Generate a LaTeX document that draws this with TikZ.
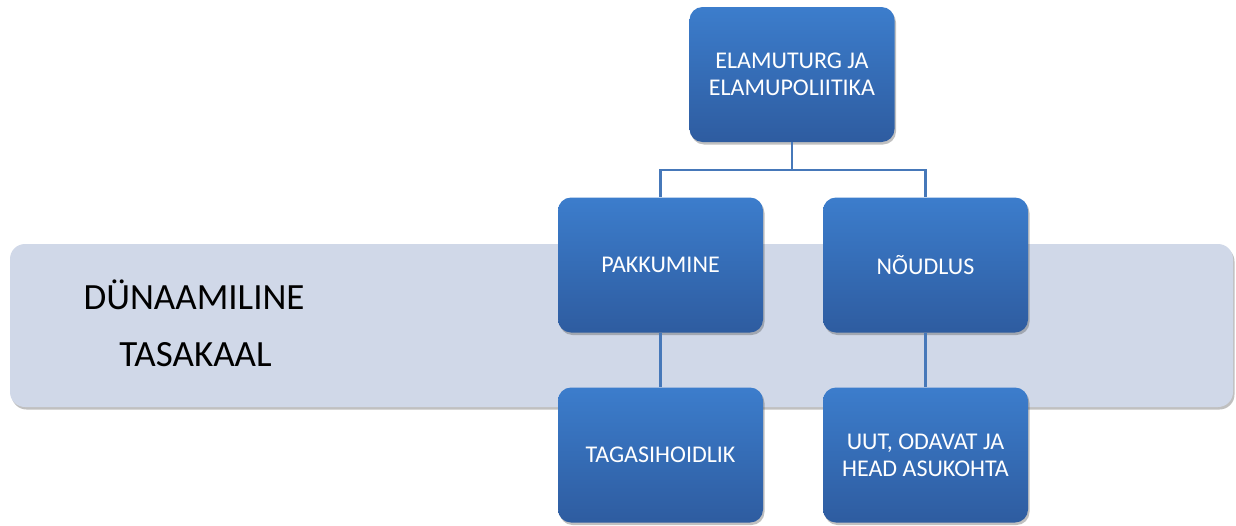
\documentclass[tikz,border=0pt]{standalone}
\usepackage{fontspec}
\setmainfont{Carlito}
\usetikzlibrary{shadows}
\definecolor{boxtop}{RGB}{60,125,204}
\definecolor{boxbot}{RGB}{46,92,160}
\definecolor{bandfill}{RGB}{208,216,232}
\definecolor{linkcol}{RGB}{70,120,185}
\tikzset{
  boxnode/.style={rectangle, rounded corners=13pt, minimum width=205pt, minimum height=135pt,
    top color=boxtop, bottom color=boxbot, draw=none, text=white, align=center,
    font=\fontsize{24pt}{27pt}\selectfont, inner sep=0pt,
    drop shadow={shadow xshift=1.5pt, shadow yshift=-2.5pt, opacity=0.35, fill=black!70}},
  bandbox/.style={rounded corners=15pt, fill=bandfill,
    drop shadow={shadow xshift=1.5pt, shadow yshift=-2.5pt, opacity=0.35, fill=black!70}},
  bandtext/.style={anchor=base, inner sep=0pt, font=\fontsize{37pt}{44pt}\selectfont, text=black},
  link/.style={draw=linkcol, line width=2.4pt}
}
\begin{document}
\begin{tikzpicture}[x=1pt, y=-1pt]
\useasboundingbox (0,0) rectangle (1236,525);
\fill[white] (0,0) rectangle (1236,525);
\path[bandbox] (10,244) rectangle (1233,407);
\node[bandtext] (dyn1) at (194,309) {DÜNAAMILINE};
\node[bandtext] (dyn2) at (195.5,366) {TASAKAAL};
\node[boxnode] (top) at (792,74.5) {ELAMUTURG JA\\ELAMUPOLIITIKA};
\node[boxnode] (pak) at (660.5,265) {PAKKUMINE};
\node[boxnode] (nou) at (925.5,265) {NÕUDLUS};
\node[boxnode] (tag) at (660.5,455) {TAGASIHOIDLIK};
\node[boxnode] (uut) at (925.5,455) {UUT, ODAVAT JA\\HEAD ASUKOHTA};
\coordinate (split) at (792,170);
\draw[link] (top.south) -- (split) -| (pak.north);
\draw[link] (split) -| (nou.north);
\draw[link] (pak.south) -- (tag.north);
\draw[link] (nou.south) -- (uut.north);
\end{tikzpicture}
\end{document}
